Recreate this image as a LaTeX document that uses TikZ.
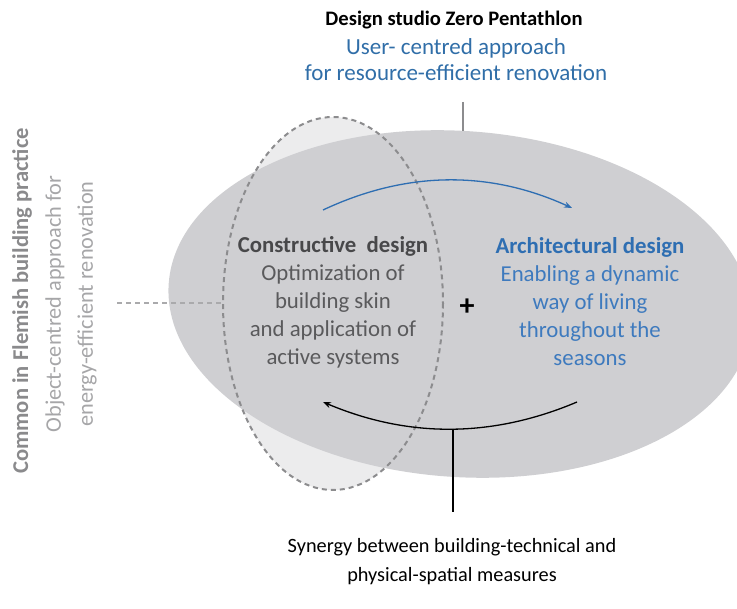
\documentclass[tikz,border=0pt]{standalone}
\usepackage{fontspec}
\setmainfont{Carlito}
\usetikzlibrary{arrows.meta}
\definecolor{bigfill}{RGB}{207,207,210}
\definecolor{lightfill}{RGB}{236,236,237}
\definecolor{dashgrey}{RGB}{140,140,142}
\definecolor{dashlight}{RGB}{170,170,172}
\definecolor{blueA}{RGB}{46,110,178}
\definecolor{blueB}{RGB}{62,122,190}
\definecolor{blueT}{RGB}{48,110,168}
\definecolor{greyH}{RGB}{72,72,74}
\definecolor{greyB}{RGB}{90,90,92}
\definecolor{greyL1}{RGB}{138,138,140}
\definecolor{greyL2}{RGB}{166,166,168}
\tikzset{
  txt/.style={align=center, inner sep=0pt, font=\fontsize{22.8}{28}\selectfont},
  dashline/.style={line width=2pt, dash pattern=on 5pt off 4pt}
}
\begin{document}
\begin{tikzpicture}[x=1pt,y=-1pt]
\useasboundingbox (0,0) rectangle (737,609);
% fills
\fill[lightfill] (333,303.5) ellipse [x radius=110, y radius=186.5];
\begin{scope}
\clip (0,0) rectangle (737,609);
\fill[bigfill, rotate around={-4:(460,304)}] (460,304) ellipse [x radius=292, y radius=173];
\end{scope}
\draw[dashgrey, dashline] (333,303.5) ellipse [x radius=110, y radius=186.5];
\coordinate (dl) at (117,303);
\coordinate (dr) at (223,303);
\draw[dashlight, dashline] (dl) -- (dr);

% top texts
\node[txt, font=\fontsize{20.6}{26}\selectfont\bfseries] (title) at (454,20) {Design studio Zero Pentathlon};
\node[txt, text=blueT, font=\fontsize{23}{26}\selectfont] (user) at (456,60) {User- centred approach\\for resource-efficient renovation};
\coordinate (topA) at (463,102);
\coordinate (topB) at (463,131);
\draw[dashgrey, line width=1.6pt] (topA) -- (topB);

% left rotated texts
\node[txt, rotate=90, text=greyL1, font=\fontsize{22.6}{26}\selectfont\bfseries] (common) at (22,301) {Common in Flemish building practice};
\node[txt, rotate=90, text=greyL2, font=\fontsize{22.3}{32}\selectfont] (object) at (71,304) {Object-centred approach for\\energy-efficient renovation};

% blocks
\node[txt, text=greyB] (cons) at (333,302) {{\color{greyH}\bfseries Constructive\ \ design}\\Optimization of\\building skin\\and application of\\active systems};
\node[txt, text=blueB] (arch) at (590,302) {{\color{blueA}\bfseries Architectural design}\\Enabling a dynamic\\way of living\\throughout the\\seasons};
\node[txt, font=\fontsize{30}{30}\selectfont\bfseries] (plus) at (467,307) {+};

% arrows
\coordinate (b1) at (323,210);
\coordinate (b2) at (572,208);
\draw[blueA, line width=1.3pt, -{Stealth[length=8pt,width=6pt]}] (b1) .. controls (406,171) and (489,170) .. (b2);
\coordinate (k1) at (577,402);
\coordinate (k2) at (323,402);
\draw[black, line width=1.3pt, -{Stealth[length=8pt,width=6pt]}] (k1) .. controls (492,438) and (408,438) .. (k2);
\coordinate (v1) at (453,429);
\coordinate (v2) at (453,512);
\draw[black, line width=1.2pt] (v1) -- (v2);

% bottom text
\node[txt, font=\fontsize{20.3}{29}\selectfont] (syn) at (452,562) {Synergy between building-technical and\\physical-spatial measures};
\end{tikzpicture}
\end{document}
